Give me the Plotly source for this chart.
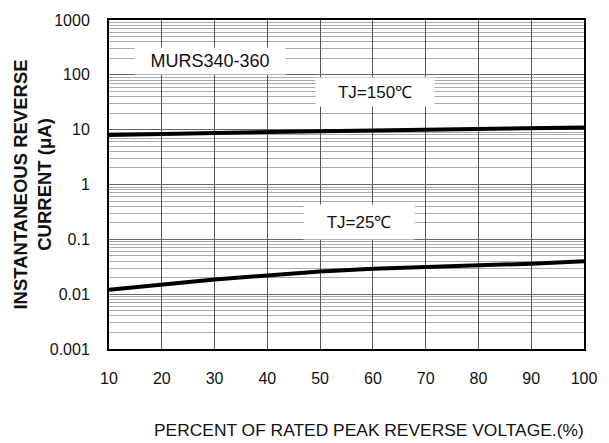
import plotly.graph_objects as go

voltage_pct = [10, 20, 30, 40, 50, 60, 70, 80, 90, 100]
current_150 = [8.0, 8.4, 8.8, 9.1, 9.4, 9.7, 10.0, 10.3, 10.7, 11.0]
current_25 = [0.012, 0.015, 0.0185, 0.022, 0.026, 0.029, 0.031, 0.033, 0.036, 0.040]
y_ticks = [0.001, 0.01, 0.1, 1, 10, 100, 1000]
y_tick_text = ["0.001", "0.01", "0.1", "1", "10", "100", "1000"]
x_ticks = [10, 20, 30, 40, 50, 60, 70, 80, 90, 100]

FONT = "Liberation Sans, Arial, sans-serif"

fig = go.Figure()
fig.add_trace(go.Scatter(x=voltage_pct, y=current_150, mode="lines",
                         line=dict(color="black", width=4), showlegend=False))
fig.add_trace(go.Scatter(x=voltage_pct, y=current_25, mode="lines",
                         line=dict(color="black", width=4), showlegend=False))

fig.update_layout(
    width=609, height=443,
    margin=dict(l=109, r=25, t=20, b=94),
    paper_bgcolor="white", plot_bgcolor="white",
    font=dict(family=FONT, size=16, color="#111"),
    xaxis=dict(range=[10, 100], tickvals=x_ticks, showgrid=True, automargin=False,
               gridcolor="#555", gridwidth=1, showline=True, linecolor="black",
               linewidth=2, mirror=True, ticks="", zeroline=False,
               tickfont=dict(size=16), ticklabelstandoff=14),
    yaxis=dict(type="log", range=[-3, 3], tickvals=y_ticks, ticktext=y_tick_text,
               automargin=False, showgrid=True, gridcolor="#666", gridwidth=1,
               minor=dict(showgrid=True, gridcolor="#aaa", gridwidth=1,
                          tickvals=[m * 10 ** e for e in range(-3, 3) for m in range(2, 10)]),
               showline=True, linecolor="black", linewidth=2, mirror=True,
               ticks="outside", ticklen=14, tickcolor="rgba(0,0,0,0)",
               tickfont=dict(size=16)),
    annotations=[
        dict(text="<b>INSTANTANEOUS REVERSE<br>CURRENT (μA)</b>", xref="paper", yref="paper",
             x=-0.162, y=0.5, xanchor="center", yanchor="middle", textangle=-90,
             showarrow=False, font=dict(size=18.5)),
        dict(text="PERCENT OF RATED PEAK REVERSE VOLTAGE.(%)", xref="paper", yref="paper",
             x=0.547, y=-0.246, xanchor="center", yanchor="middle",
             showarrow=False, font=dict(size=17.4)),
        dict(text="MURS340-360", xref="paper", yref="paper", x=0.2126, y=0.875,
             xanchor="center", yanchor="middle", showarrow=False, bgcolor="white",
             width=150, height=26, borderpad=0, font=dict(size=18)),
        dict(text="TJ=150℃", xref="paper", yref="paper", x=0.56, y=0.78,
             xanchor="center", yanchor="middle", showarrow=False, bgcolor="white",
             width=118, height=28, borderpad=0, font=dict(size=17)),
        dict(text="TJ=25℃", xref="paper", yref="paper", x=0.526, y=0.385,
             xanchor="center", yanchor="middle", showarrow=False, bgcolor="white",
             width=110, height=34, borderpad=0, font=dict(size=17)),
    ],
)

fig.write_html("out.html", config={"displayModeBar": False},
               post_script="document.body.style.margin='0';document.body.style.overflow='hidden';")
